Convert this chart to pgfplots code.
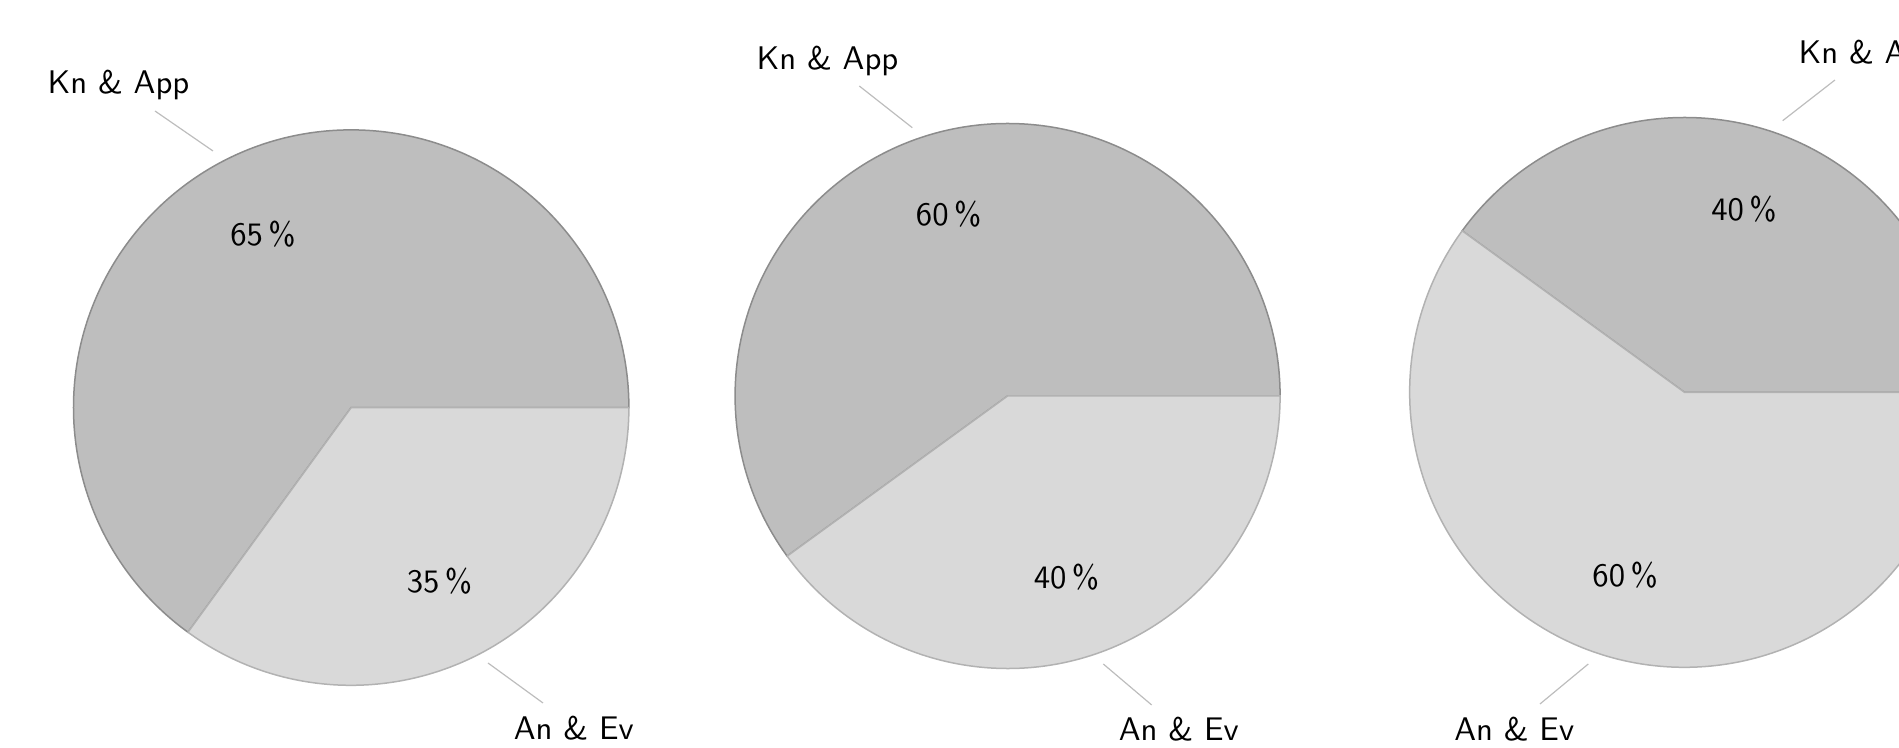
\documentclass[border=0pt]{standalone}
\usepackage{fontspec}
\usepackage{pgfplots}
\pgfplotsset{compat=1.18}
\definecolor{sliceA}{HTML}{BEBEBE}
\definecolor{sliceB}{HTML}{D9D9D9}
\definecolor{edgeA}{HTML}{8C8C8C}
\definecolor{edgeB}{HTML}{B2B2B2}
\definecolor{leader}{HTML}{BDBDBD}
% #1 cx, #2 cy, #3 radius (axis units), #4 share of "Kn & App" in percent
\newcommand{\pie}[4]{%
  \filldraw[fill=sliceA, draw=edgeA, line width=0.5pt]
    (axis cs:#1,#2) -- ++(0:{#3pt/3})
    arc[start angle=0, end angle={3.6*#4}, radius={#3pt/3}] -- cycle;
  \filldraw[fill=sliceB, draw=edgeB, line width=0.5pt]
    (axis cs:#1,#2) -- ++({3.6*#4}:{#3pt/3})
    arc[start angle={3.6*#4}, end angle=360, radius={#3pt/3}] -- cycle;
  \node at (axis cs:{#1+0.7*#3*cos(1.8*#4)},{#2+0.7*#3*sin(1.8*#4)}) {#4\,\%};
  \node at (axis cs:{#1+0.7*#3*cos(1.8*#4+180)},{#2+0.7*#3*sin(1.8*#4+180)}) {\the\numexpr100-#4\relax\,\%};
}
\begin{document}
\begin{tikzpicture}[font=\fontsize{10.9}{13}\selectfont\sffamily]
\begin{axis}[
  anchor=south west, at={(0,0)},
  x=0.333333pt, y=0.333333pt,
  xmin=0, xmax=1899, ymin=0, ymax=748,
  scale only axis, hide axis, clip=false]
  % pies: centre x, centre y, radius, Kn & App percentage
  \pie{351.2}{340.4}{277.7}{65}
  \pie{1007.6}{352}{272.5}{60}
  \pie{1684.6}{355.6}{274.9}{40}
  % leader lines
  \draw[leader, line width=0.4pt] (axis cs:155,637) -- (axis cs:213,597);
  \draw[leader, line width=0.4pt] (axis cs:488,85) -- (axis cs:543,45);
  \draw[leader, line width=0.4pt] (axis cs:859.3,662) -- (axis cs:912.3,620.3);
  \draw[leader, line width=0.4pt] (axis cs:1103.3,84) -- (axis cs:1151.7,43);
  \draw[leader, line width=0.4pt] (axis cs:1835,668) -- (axis cs:1782.7,627.3);
  \draw[leader, line width=0.4pt] (axis cs:1588.3,84) -- (axis cs:1540,44);
  % outer labels
  \node[anchor=base, inner sep=0pt] at (axis cs:118.5,654.5) {Kn \& App};
  \node[anchor=base, inner sep=0pt] at (axis cs:573.8,8) {An \& Ev};
  \node[anchor=base, inner sep=0pt] at (axis cs:827.5,678) {Kn \& App};
  \node[anchor=base, inner sep=0pt] at (axis cs:1178.8,7.5) {An \& Ev};
  \node[anchor=base west, inner sep=0pt] at (axis cs:1798,684) {Kn \& App};
  \node[anchor=base, inner sep=0pt] at (axis cs:1514.2,7.5) {An \& Ev};
\end{axis}
\pgfresetboundingbox
\path[use as bounding box] (0,0) rectangle (633pt,249.3333pt);
\end{tikzpicture}
\end{document}
